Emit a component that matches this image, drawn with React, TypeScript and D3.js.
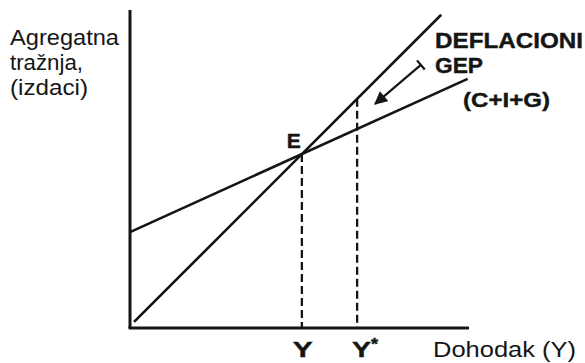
import React, { useEffect, useRef } from "react";
import * as d3 from "d3";

// chart values (in abstract units, 0..100 on both axes)
const xDomain = [0, 100];
const yDomain = [0, 100];
const line45 = [
  { x: 1.2, y: 1.8 },
  { x: 91.8, y: 92.4 },
];
const aggregateDemand = [
  { x: 0, y: 28.3 },
  { x: 99.6, y: 73.5 },
];
const equilibrium = { x: 50.7, y: 51.3 };
const fullEmployment = { x: 67.0, y: 67.6 };
const gapArrow = [
  { x: 85.8, y: 77.6 },
  { x: 72.3, y: 66.1 },
];
const yAxisTop = 93.8;
const xTickLabels = ["Y", "Y"];
const yAxisLabel = ["Agregatna", "tražnja,", "(izdaci)"];
const xAxisLabel = "Dohodak (Y)";

const W = 585;
const H = 363;
const FONT = "'Liberation Sans', Arial, Helvetica, sans-serif";
const INK = "#151515";

function App() {
  const svgRef = useRef<SVGSVGElement>(null);

  useEffect(() => {
    const svg = d3.select(svgRef.current);
    svg.selectAll("*").remove();

    const x = d3.scaleLinear().domain(xDomain).range([130, 469]);
    const y = d3.scaleLinear().domain(yDomain).range([328, -11]);

    const line = d3
      .line<{ x: number; y: number }>()
      .x((d) => x(d.x))
      .y((d) => y(d.y));

    // arrow marker
    const defs = svg.append("defs");
    defs
      .append("marker")
      .attr("id", "head")
      .attr("viewBox", "0 0 10 10")
      .attr("refX", 9)
      .attr("refY", 5)
      .attr("markerWidth", 6.5)
      .attr("markerHeight", 6)
      .attr("markerUnits", "strokeWidth")
      .attr("orient", "auto")
      .append("path")
      .attr("d", "M0,0 L10,5 L0,10 Z")
      .attr("fill", INK);

    // axes
    svg
      .append("line")
      .attr("x1", x(0))
      .attr("x2", x(0))
      .attr("y1", y(0))
      .attr("y2", y(yAxisTop))
      .attr("stroke", INK)
      .attr("stroke-width", 3);
    svg
      .append("line")
      .attr("x1", x(0) - 1.5)
      .attr("x2", x(xDomain[1]))
      .attr("y1", y(0))
      .attr("y2", y(0))
      .attr("stroke", INK)
      .attr("stroke-width", 3);

    // dashed guides
    [equilibrium, fullEmployment].forEach((p) => {
      svg
        .append("line")
        .attr("x1", x(p.x))
        .attr("x2", x(p.x))
        .attr("y1", y(p.y))
        .attr("y2", y(0))
        .attr("stroke", INK)
        .attr("stroke-width", 2.3)
        .attr("stroke-dasharray", "8,4");
    });

    // lines
    svg
      .append("path")
      .attr("d", line(line45))
      .attr("fill", "none")
      .attr("stroke", INK)
      .attr("stroke-width", 2.6);
    svg
      .append("path")
      .attr("d", line(aggregateDemand))
      .attr("fill", "none")
      .attr("stroke", INK)
      .attr("stroke-width", 2.6);

    // gap arrow with bar at tail
    svg
      .append("path")
      .attr("d", line(gapArrow))
      .attr("fill", "none")
      .attr("stroke", INK)
      .attr("stroke-width", 2.2)
      .attr("marker-end", "url(#head)");
    const tx = x(gapArrow[0].x);
    const ty = y(gapArrow[0].y);
    const hx = x(gapArrow[1].x);
    const hy = y(gapArrow[1].y);
    const len = Math.hypot(hx - tx, hy - ty);
    const px = -(hy - ty) / len;
    const py = (hx - tx) / len;
    svg
      .append("line")
      .attr("x1", tx + px * 6)
      .attr("y1", ty + py * 6)
      .attr("x2", tx - px * 6)
      .attr("y2", ty - py * 6)
      .attr("stroke", INK)
      .attr("stroke-width", 2.2);

    // texts
    const text = (
      s: string,
      tx0: number,
      ty0: number,
      size: number,
      bold: boolean,
      tl?: number
    ) => {
      const t = svg
        .append("text")
        .attr("x", tx0)
        .attr("y", ty0)
        .attr("font-family", FONT)
        .attr("font-size", size)
        .attr("font-weight", bold ? "bold" : "normal")
        .attr("fill", INK)
        .text(s);
      if (bold) t.attr("stroke", INK).attr("stroke-width", 0.4);
      if (tl) t.attr("textLength", tl).attr("lengthAdjust", "spacingAndGlyphs");
      return t;
    };

    const yLabelLen = [109, 73, 78];
    yAxisLabel.forEach((s, i) => text(s, 10, 45 + i * 25, 22, false, yLabelLen[i]));
    text(xAxisLabel, 433, 357, 22, false, 143);
    text("DEFLACIONI", 435, 48, 22, true, 148);
    text("GEP", 435, 73, 22, true, 48);
    text("(C+I+G)", 463, 107, 21, true, 87);
    text("E", x(equilibrium.x) - 15, 148, 21, true, 14);
    text(xTickLabels[0], x(equilibrium.x) - 9, 357, 22, true, 20);
    text(xTickLabels[1], x(fullEmployment.x) - 5, 357, 22, true, 19);
    // superscript star
    text("*", x(fullEmployment.x) + 14, 350, 16, true, 7);
  }, []);

  return (
    <svg
      ref={svgRef}
      width={W}
      height={H}
      style={{ position: "absolute", left: 0, top: 0, background: "#fff" }}
    />
  );
}

export default App;
